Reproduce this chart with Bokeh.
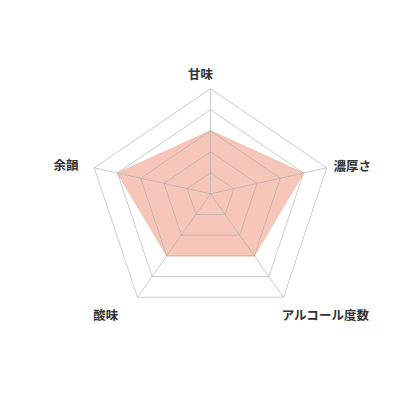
from bokeh.plotting import figure
from bokeh.models import Range1d, ColumnDataSource
from bokeh.core.properties import value
from bokeh.embed import file_html
from bokeh.resources import INLINE

# Data
categories = ["甘味", "濃厚さ", "アルコール度数", "酸味", "余韻"]
values = [3, 4, 3, 3, 4]
levels = [1, 2, 3, 4, 5]
max_level = 5

# Layout geometry (direction of each axis at the max level, in px, y up)
axis_dx = [0.0, 116.3, 73.0, -73.0, -116.3]
axis_dy = [105.0, 26.0, -103.4, -103.4, 26.0]
label_x = [-10.0, 123.0, 115.0, -104.7, -144.5]
label_y = [120.3, 28.3, -120.7, -120.2, 29.3]
label_align = ["center", "left", "center", "center", "center"]

cx, cy = 210.0, 193.3  # centre in screenshot pixels
off = 0
W = H = 404

p = figure(width=W, height=H, output_backend="svg", toolbar_location=None,
           x_range=Range1d(off - cx, off + W - cx), y_range=Range1d(-(off + H - cy), cy - off),
           min_border=0, outline_line_color=None, background_fill_color="white")
p.axis.visible = False
p.grid.visible = False

# Data polygon
px = [axis_dx[i] * values[i] / max_level for i in range(len(categories))]
py = [axis_dy[i] * values[i] / max_level for i in range(len(categories))]
p.patch(px, py, fill_color="#f6c7b9", fill_alpha=1.0, line_color="#f4bfae", line_width=1)

# Grid rings
for lv in levels:
    rx = [d * lv / max_level for d in axis_dx] + [axis_dx[0] * lv / max_level]
    ry = [d * lv / max_level for d in axis_dy] + [axis_dy[0] * lv / max_level]
    p.line(rx, ry, line_color="#a8a8a8", line_alpha=0.75, line_width=0.8)

# Spokes
for i in range(len(categories)):
    p.line([0, axis_dx[i]], [0, axis_dy[i]], line_color="#a8a8a8", line_alpha=0.75, line_width=0.8)

# Labels
src = ColumnDataSource(dict(x=label_x, y=label_y, t=categories, a=label_align))
p.text(x="x", y="y", text="t", source=src, text_align="a", text_baseline="middle",
       text_font=value("Noto Sans CJK JP"), text_font_size="12.5px",
       text_font_style="bold", text_color="#333333")

open("out.html", "w").write(file_html(p, INLINE))
